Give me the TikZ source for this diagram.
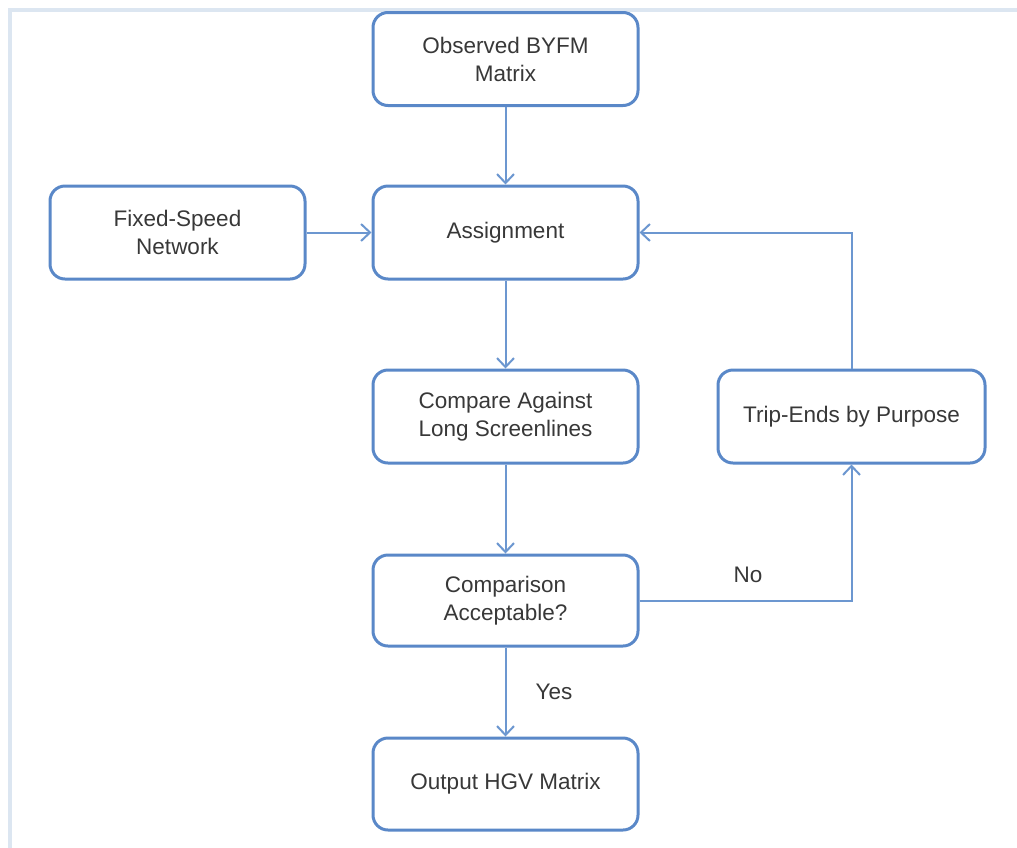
\documentclass[tikz,border=0pt]{standalone}
\usepackage{fontspec}
\setmainfont{Liberation Sans}
\usetikzlibrary{arrows.meta}
\definecolor{boxblue}{HTML}{5A88C8}
\definecolor{linkblue}{HTML}{6C97D0}
\definecolor{framegray}{HTML}{DCE6F1}
\definecolor{txtgray}{HTML}{383838}
\tikzset{
  flowbox/.style={draw=boxblue, line width=3pt, rounded corners=15pt,
    fill=white, minimum height=93pt, minimum width=265pt, align=center,
    text=txtgray, font=\fontsize{22.5}{28}\selectfont, inner sep=0pt},
  link/.style={draw=linkblue, line width=2pt,
    -{Straight Barb[length=9pt,width=17pt,line width=2pt]}},
  plain/.style={draw=linkblue, line width=2pt},
  lbl/.style={text=txtgray, font=\fontsize{22.5}{28}\selectfont, inner sep=0pt}
}
\begin{document}
\begin{tikzpicture}[x=1pt,y=-1pt]
\useasboundingbox (0,0) rectangle (1017,847);
\fill[white] (0,0) rectangle (1017,847);
% outer panel edges
\draw[framegray, line width=4pt] (10,850) -- (10,10) -- (1020,10);

% process boxes
\node[flowbox] (obs) at (505.5,59) {Observed BYFM\\Matrix};
\node[flowbox, minimum width=255pt] (fixed) at (177.5,232.5) {Fixed-Speed\\Network};
\node[flowbox] (assign) at (505.5,232.5) {Assignment};
\node[flowbox] (compare) at (505.5,416.5) {Compare Against\\Long Screenlines};
\node[flowbox, minimum width=267pt] (trip) at (851.5,416.5) {Trip-Ends by Purpose};
\node[flowbox, minimum height=91pt] (accept) at (505.5,600.5) {Comparison\\Acceptable?};
\node[flowbox, minimum height=92pt] (output) at (505.5,784) {Output HGV Matrix};

% connectors
\draw[link] (obs.south) -- (assign.north);
\draw[link] (fixed.east) -- (assign.west);
\draw[link] (assign.south) -- (compare.north);
\draw[link] (compare.south) -- (accept.north);
\draw[link] (accept.south) -- (output.north);
\draw[link] (accept.east) -| (trip.south);
\draw[link] (trip.north) |- (assign.east);

% branch labels
\node[lbl] (no) at (748,575) {No};
\node[lbl] (yes) at (554,692) {Yes};
\end{tikzpicture}
\end{document}
